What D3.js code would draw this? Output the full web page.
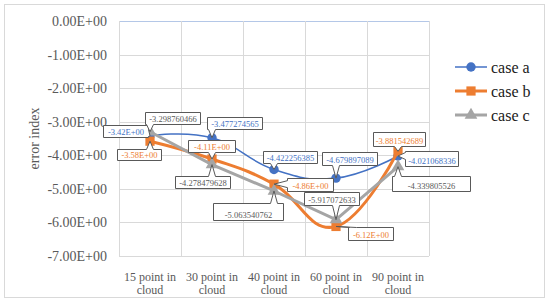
<!DOCTYPE html>
<html>
<head>
<meta charset="utf-8">
<script src="https://cdn.jsdelivr.net/npm/d3@7"></script>
<style>
  html, body { margin: 0; padding: 0; background: #fff; }
  svg text { font-family: "Liberation Serif", "DejaVu Serif", serif; }
</style>
</head>
<body>
<svg id="chart"></svg>
<script>
// data
const categories = ["15 point in cloud", "30 point in cloud", "40 point in cloud", "60 point in cloud", "90 point in cloud"];
const caseA = [-3.42, -3.477274565, -4.422256385, -4.679897089, -4.021068336];
const caseB = [-3.58, -4.11, -4.86, -6.12, -3.881542689];
const caseC = [-3.298760466, -4.278479628, -5.063540762, -5.917072633, -4.339805526];
const labelsA = ["-3.42E+00", "-3.477274565", "-4.422256385", "-4.679897089", "-4.021068336"];
const labelsB = ["-3.58E+00", "-4.11E+00", "-4.86E+00", "-6.12E+00", "-3.881542689"];
const labelsC = ["-3.298760466", "-4.278479628", "-5.063540762", "-5.917072633", "-4.339805526"];
const yTicks = [0, -1, -2, -3, -4, -5, -6, -7];

// callout placement [dx, dy, w, h] relative to point
const calloutA = [[-25, -5, 45, 12], [22, -15, 55, 12], [16, -12.5, 54, 12], [13.5, -19.5, 55, 13], [33.5, 2.5, 53, 15]];
const calloutB = [[-11.5, 13, 44, 11], [-1, -13, 47, 12], [36, 0, 46, 13], [34.5, 7, 45, 13], [1, -12, 52, 14]];
const calloutC = [[22, -14, 55, 12], [-10, 17, 55, 12], [-26, 20.5, 70, 17], [-4.5, -21.5, 55, 13], [33, 17, 78, 15]];

const width = 550, height = 303;
const marginLeft = 119, marginRight = 121, marginTop = 21, marginBottom = 47;
const serif = "Liberation Serif";

const svg = d3.select("#chart").attr("width", width).attr("height", height);

// outer border
svg.append("rect")
  .attr("x", 4.5).attr("y", 4.5)
  .attr("width", 540).attr("height", 293)
  .attr("fill", "#fff")
  .attr("stroke", "#d9d9d9");

const x = d3.scaleBand()
  .domain(categories)
  .range([marginLeft, width - marginRight]);

const y = d3.scaleLinear()
  .domain([-7, 0])
  .range([height - marginBottom, marginTop]);

function sci(v) {
  if (v === 0) return "0.00E+00";
  const e = Math.floor(Math.log10(Math.abs(v)));
  const m = v / Math.pow(10, e);
  return m.toFixed(2) + "E" + (e < 0 ? "-" : "+") + String(Math.abs(e)).padStart(2, "0");
}

// grid
svg.append("g")
  .selectAll("line")
  .data(yTicks)
  .join("line")
  .attr("x1", marginLeft).attr("x2", width - marginRight)
  .attr("y1", d => Math.round(y(d)) + 0.5).attr("y2", d => Math.round(y(d)) + 0.5)
  .attr("stroke", d => d === 0 ? "#b4c7e7" : "#d9d9d9");

const bounds = categories.map(c => x(c)).concat([x.range()[1]]);
svg.append("g")
  .selectAll("line")
  .data(bounds)
  .join("line")
  .attr("x1", d => Math.round(d) + 0.5).attr("x2", d => Math.round(d) + 0.5)
  .attr("y1", y(0)).attr("y2", y(-7))
  .attr("stroke", "#d9d9d9");

// y axis labels
svg.append("g")
  .attr("transform", `translate(${marginLeft},0)`)
  .call(d3.axisLeft(y).tickValues(yTicks).tickFormat(sci).tickSize(0).tickPadding(12))
  .attr("font-family", serif)
  .call(g => g.select(".domain").remove())
  .call(g => g.selectAll("text")
    .attr("font-size", 14)
    .attr("fill", "#595959"));

// x axis labels
const xAxis = svg.append("g")
  .attr("transform", `translate(0,${height - marginBottom})`);
xAxis.selectAll("text")
  .data(categories)
  .join("text")
  .attr("x", d => x(d) + x.bandwidth() / 2)
  .attr("text-anchor", "middle")
  .attr("font-family", serif)
  .attr("font-size", 12)
  .attr("fill", "#595959")
  .each(function(d) {
    const parts = d.split(" ");
    const t = d3.select(this);
    t.append("tspan").attr("x", x(d) + x.bandwidth() / 2).attr("y", 25).text(parts.slice(0, 3).join(" "));
    t.append("tspan").attr("x", x(d) + x.bandwidth() / 2).attr("y", 38).text(parts.slice(3).join(" "));
  });

// y title
svg.append("text")
  .attr("transform", `translate(39,${(y(0) + y(-7)) / 2}) rotate(-90)`)
  .attr("text-anchor", "middle")
  .attr("font-family", serif)
  .attr("font-size", 14)
  .attr("fill", "#595959")
  .text("error index");

const series = [
  { name: "case a", values: caseA, labels: labelsA, callout: calloutA, color: "#4472C4", width: 1.5, curve: d3.curveCardinal.tension(-0.3), marker: "circle", labelColor: "#4472C4" },
  { name: "case b", values: caseB, labels: labelsB, callout: calloutB, color: "#ED7D31", width: 3, curve: d3.curveCardinal.tension(-0.3), marker: "square", labelColor: "#ED7D31" },
  { name: "case c", values: caseC, labels: labelsC, callout: calloutC, color: "#A5A5A5", width: 3, curve: d3.curveLinear, marker: "triangle", labelColor: "#595959" }
];

const cx = i => x(categories[i]) + x.bandwidth() / 2;

function markerPath(type) {
  if (type === "circle") return d3.symbol(d3.symbolCircle, 70)();
  if (type === "square") return d3.symbol(d3.symbolSquare, 85)();
  return d3.symbol(d3.symbolTriangle, 70)();
}

// lines and markers
series.forEach(s => {
  const line = d3.line()
    .x((d, i) => cx(i))
    .y(d => y(d))
    .curve(s.curve);
  svg.append("path")
    .datum(s.values)
    .attr("d", line)
    .attr("fill", "none")
    .attr("stroke", s.color)
    .attr("stroke-width", s.width)
    .attr("stroke-linejoin", "round");
  svg.append("g")
    .selectAll("path")
    .data(s.values)
    .join("path")
    .attr("transform", (d, i) => `translate(${cx(i)},${y(d)})`)
    .attr("d", markerPath(s.marker))
    .attr("fill", s.color);
});

// callout shape: rectangle with a wedge pointing to the data point
function calloutPath(x0, y0, x1, y1, tx, ty) {
  const hw = 3.5;
  let side;
  if (ty > y1) side = "bottom";
  else if (ty < y0) side = "top";
  else if (tx > x1) side = "right";
  else side = "left";
  const clampX = Math.max(x0 + hw + 1, Math.min(x1 - hw - 1, tx));
  const clampY = Math.max(y0 + hw + 1, Math.min(y1 - hw - 1, ty));
  let p = `M${x0},${y0}`;
  if (side === "top") p += `L${clampX - hw},${y0}L${tx},${ty}L${clampX + hw},${y0}`;
  p += `L${x1},${y0}`;
  if (side === "right") p += `L${x1},${clampY - hw}L${tx},${ty}L${x1},${clampY + hw}`;
  p += `L${x1},${y1}`;
  if (side === "bottom") p += `L${clampX + hw},${y1}L${tx},${ty}L${clampX - hw},${y1}`;
  p += `L${x0},${y1}`;
  if (side === "left") p += `L${x0},${clampY + hw}L${tx},${ty}L${x0},${clampY - hw}`;
  return p + "Z";
}

series.forEach(s => {
  const g = svg.append("g");
  s.values.forEach((v, i) => {
    const [dx, dy, w, h] = s.callout[i];
    const px = cx(i), py = y(v);
    const x0 = Math.round(px + dx - w / 2) + 0.5, y0 = Math.round(py + dy - h / 2) + 0.5;
    const x1 = x0 + w, y1 = y0 + h;
    g.append("path")
      .attr("d", calloutPath(x0, y0, x1, y1, px, py))
      .attr("fill", "#fff")
      .attr("stroke", "#595959")
      .attr("stroke-width", 1);
    g.append("text")
      .attr("x", (x0 + x1) / 2)
      .attr("y", y1 - 3)
      .attr("text-anchor", "middle")
      .attr("font-family", serif)
      .attr("font-size", 8.5)
      .attr("fill", s.labelColor)
      .text(s.labels[i]);
  });
});

// legend
const legend = svg.append("g")
  .attr("transform", "translate(455,67)");
const entries = legend.selectAll("g")
  .data(series)
  .join("g")
  .attr("transform", (d, i) => `translate(0,${i * 24})`);
entries.append("line")
  .attr("x1", 0).attr("x2", 32)
  .attr("stroke", d => d.color)
  .attr("stroke-width", d => d.width);
entries.append("path")
  .attr("transform", "translate(16,0)")
  .attr("d", d => markerPath(d.marker))
  .attr("fill", d => d.color);
entries.append("text")
  .attr("x", 36)
  .attr("dy", "0.35em")
  .attr("font-family", serif)
  .attr("font-size", 16)
  .attr("fill", "#1a1a1a")
  .text(d => d.name);
</script>
</body>
</html>
